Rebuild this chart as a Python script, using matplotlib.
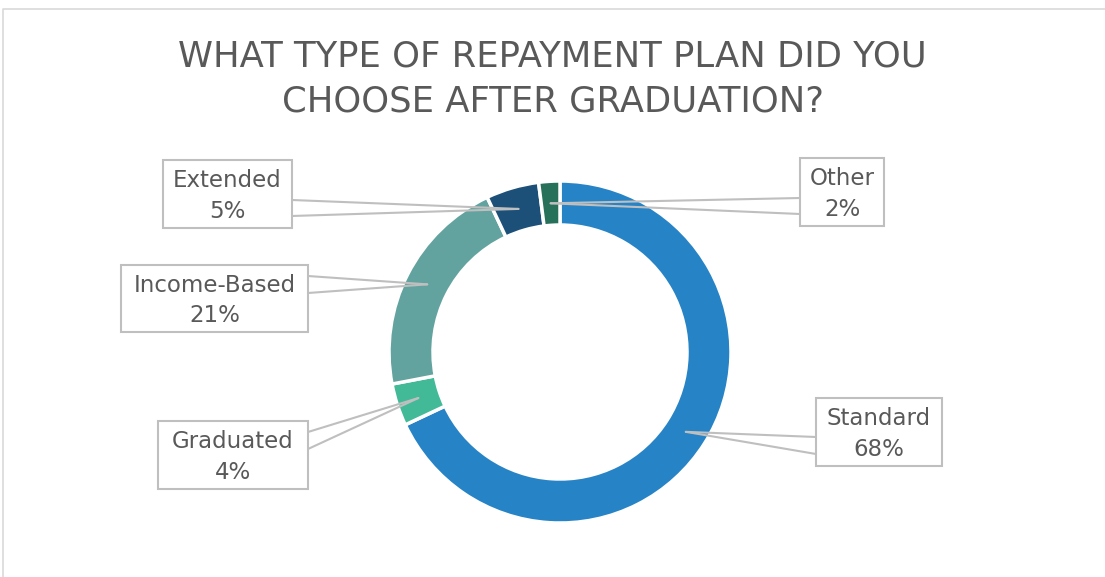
import math
import matplotlib.pyplot as plt
from matplotlib.patches import Rectangle

labels = ['Standard', 'Graduated', 'Income-Based', 'Extended', 'Other']
shares = [68, 4, 21, 5, 2]
colors = ['#2683C6', '#42BA97', '#62A39F', '#1C5079', '#27715A']
title = 'WHAT TYPE OF REPAYMENT PLAN DID YOU\nCHOOSE AFTER GRADUATION?'

W, H = 1105, 577
fig = plt.figure(figsize=(W / 100, H / 100), dpi=100)
ax = fig.add_axes([0, 0, 1, 1])

# donut (pixel coords, y measured from bottom)
cx, cy = 560, H - 352
R, ring = 171, 44
ax.pie(shares, colors=colors, startangle=90, counterclock=False,
       center=(cx, cy), radius=R, frame=True,
       wedgeprops=dict(width=ring, edgecolor='white', linewidth=2.5))
ax.set_xlim(0, W)
ax.set_ylim(0, H)
ax.set_aspect('auto')
ax.axis('off')

# callout boxes: left, top, right, bottom (from top of image), side, base y0, y1
boxes = {
    'Standard': (816, 398, 942, 466, 'left', 437, 454),
    'Graduated': (158, 421, 308, 489, 'right', 432, 449),
    'Income-Based': (121, 265, 308, 332, 'right', 276, 293),
    'Extended': (163, 160, 292, 228, 'right', 200, 216),
    'Other': (800, 158, 884, 226, 'left', 198, 214),
}

cum = 0
rm = R - ring / 2
for lab, s in zip(labels, shares):
    ang = math.radians(90 - 360 * (cum + s / 2) / 100)
    cum += s
    tx, ty = cx + rm * math.cos(ang), cy + rm * math.sin(ang)
    x0, y0, x1, y1, side, b0, b1 = boxes[lab]
    ex = x0 if side == 'left' else x1
    for by in (b0, b1):
        ax.plot([ex, tx], [H - by, ty], color='#BFBFBF', lw=1.5, zorder=5,
                solid_capstyle='round')
    ax.add_patch(Rectangle((x0, H - y1), x1 - x0, y1 - y0, facecolor='white',
                           edgecolor='#BFBFBF', lw=1.5, zorder=6))
    ax.text((x0 + x1) / 2, H - (y0 + y1) / 2 - 2, f'{lab}\n{s}%', ha='center',
            va='center', fontsize=16.5, color='#595959', linespacing=1.42,
            zorder=7)

ax.text(W / 2, H - 79, title, ha='center', va='center', fontsize=25.5,
        color='#595959', linespacing=1.42)

# chart area border
ax.plot([3, 3, W + 5], [-5, H - 9, H - 9], color='#D9D9D9', lw=1.2,
        clip_on=False)

fig.savefig('out.png', dpi=100)
